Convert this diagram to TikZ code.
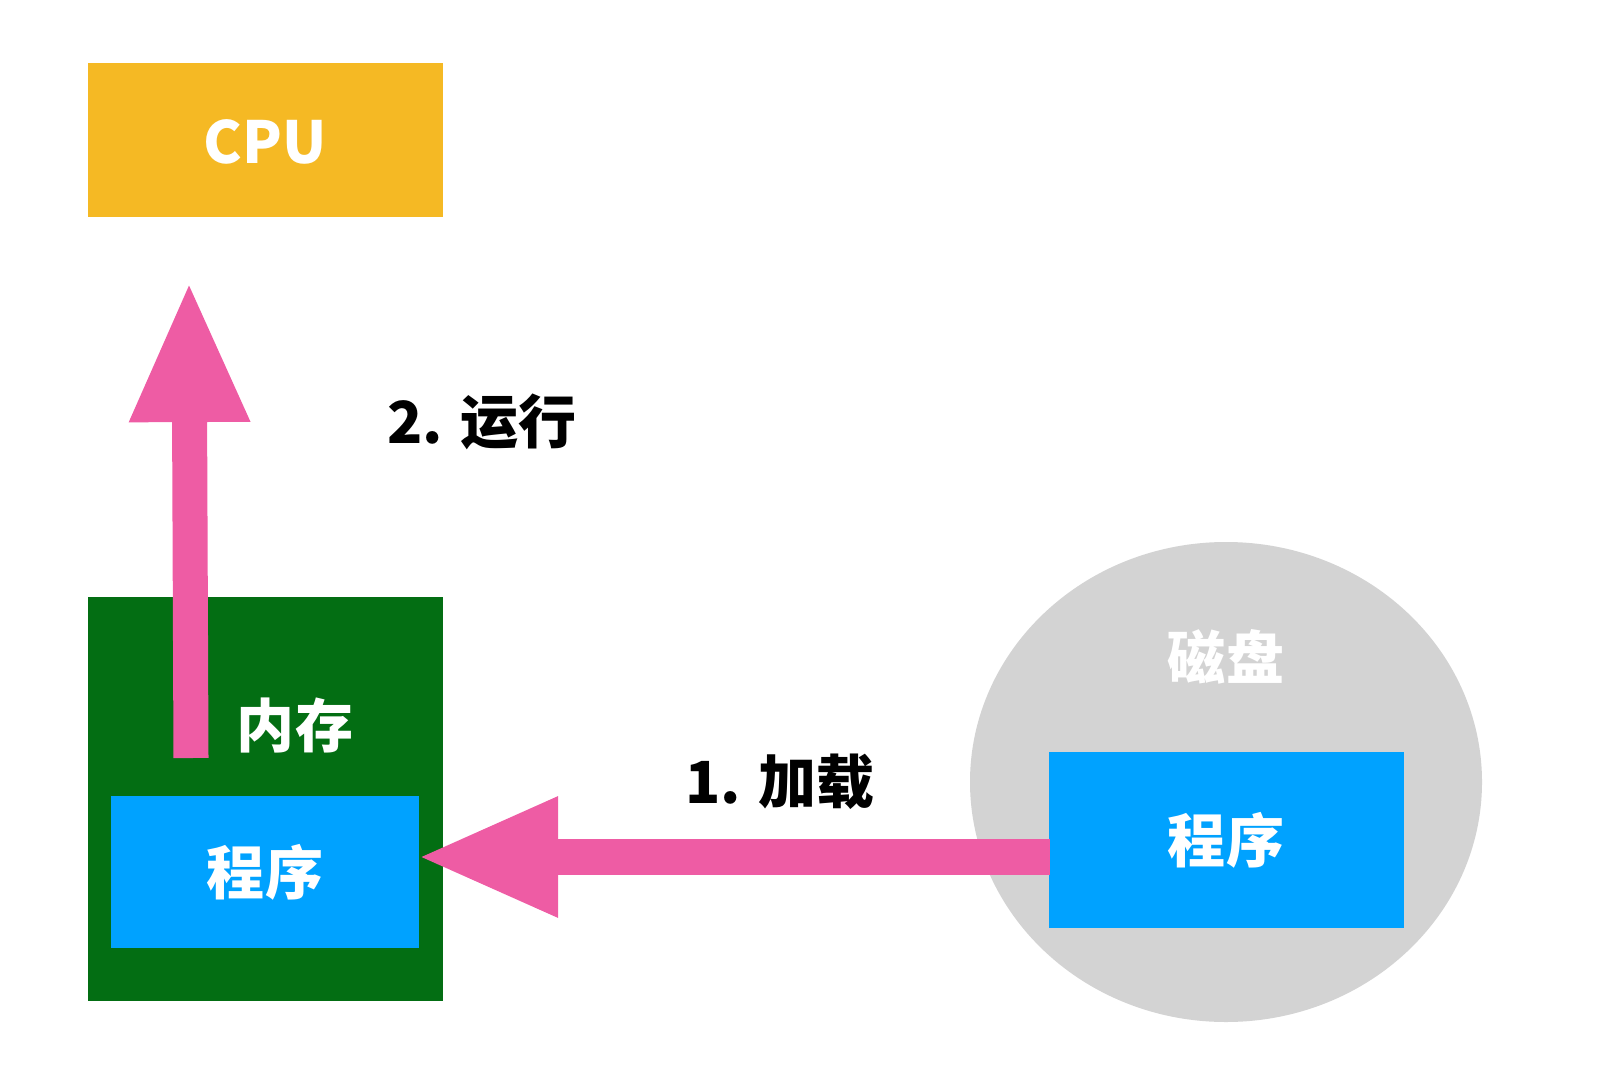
\documentclass[tikz,border=0pt]{standalone}
\usepackage{fontspec}
\setmainfont{Noto Sans CJK SC}
\usetikzlibrary{arrows.meta}
\definecolor{cpuyellow}{HTML}{F5B924}
\definecolor{memgreen}{HTML}{036E13}
\definecolor{progblue}{HTML}{00A2FF}
\definecolor{diskgray}{HTML}{D3D3D3}
\definecolor{flowpink}{HTML}{EE5CA4}
\begin{document}
\begin{tikzpicture}[x=0.01cm,y=-0.01cm,
  box/.style={inner sep=0pt,outer sep=0pt},
  lbl/.style={font=\fontsize{16.5}{20}\selectfont\bfseries},
  flow/.style={draw=flowpink,line width=0.35cm,
    -{Triangle[length=1.42cm,width=1.1cm]}}]
\useasboundingbox (0,0) rectangle (1597,1073);
\fill[cpuyellow] (88,63) rectangle (443,217);
\node[lbl,white] (cpu) at (265,142) {CPU};
\fill[memgreen] (88,597) rectangle (443,1001);
\node[lbl,white] (mem) at (295,725) {内存};
\fill[progblue] (111,796) rectangle (419,948);
\node[lbl,white] (prog) at (265,872) {程序};
\fill[diskgray] (1226,782) ellipse [x radius=256,y radius=240];
\node[lbl,white] (disk) at (1226,657) {磁盘};
\fill[progblue] (1049,752) rectangle (1404,928);
\node[lbl,white] (dprog) at (1226,840) {程序};
\coordinate (runfrom) at (191,758);
\coordinate (runto) at (189,280);
\coordinate (loadfrom) at (1050,857);
\coordinate (loadto) at (416,857);
\draw[flow] (runfrom) -- (runto);
\draw[flow] (loadfrom) -- (loadto);
\node[lbl] (run) at (482,422) {2. 运行};
\node[lbl] (load) at (780,782) {1. 加载};
\end{tikzpicture}
\end{document}
